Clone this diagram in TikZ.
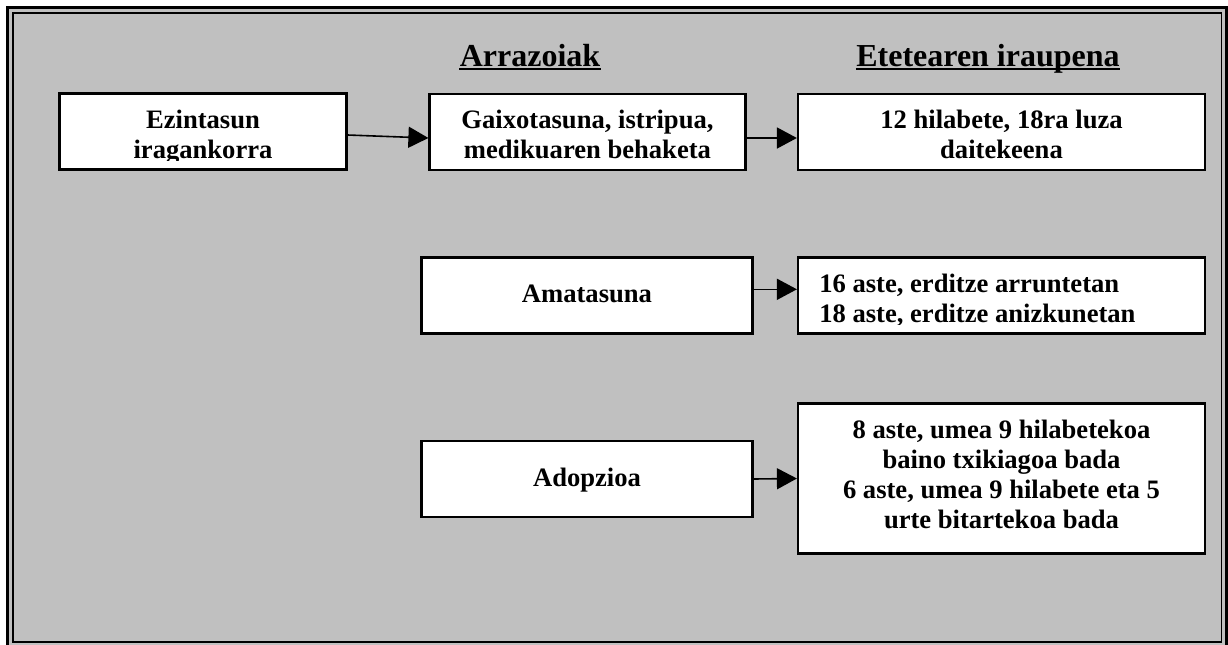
\documentclass[tikz,border=0pt]{standalone}
\usepackage{fontspec}
\setmainfont{Liberation Serif}
\usepackage{tikz}
\usetikzlibrary{arrows.meta,positioning}
\definecolor{panel}{RGB}{192,192,192}
\newcommand{\firstline}{\rule{0pt}{10pt}}

\begin{document}
\begin{tikzpicture}[
  x=0.5pt,y=-0.5pt,
  box/.style={rectangle,draw,fill=white,line width=1.1pt,minimum height=38pt,inner sep=0pt},
  txt/.style={inner sep=0pt,align=center,font=\fontsize{13.3pt}{15pt}\selectfont\bfseries},
  head/.style={inner sep=0pt,font=\fontsize{16pt}{19pt}\selectfont\bfseries},
  uline/.style={line width=1.1pt},
  arr/.style={-{Triangle[length=10pt,width=10.5pt]},line width=0.8pt}
]
\path[use as bounding box] (0,0) rectangle (1228,644);
\clip (0,0) rectangle (1228,644);
\filldraw[fill=panel,line width=1.5pt] (7.3,7) rectangle (1226,648);
\draw[line width=0.85pt] (12.7,12.7) rectangle (1221.5,642);

\node[head,anchor=base] (arrazoiak) at (530,66) {Arrazoiak};
\node[head,anchor=base] (iraupena) at (988,66) {Etetearen iraupena};
\draw[uline] ([yshift=-1.5pt]arrazoiak.base west) -- ([yshift=-1.5pt]arrazoiak.base east);
\draw[uline] ([yshift=-1.5pt]iraupena.base west) -- ([yshift=-1.5pt]iraupena.base east);

\node[box,minimum width=143.5pt] (ezin) at (203,131.5) {};
\node[box,minimum width=158pt] (gaix) at (587.5,132) {};
\node[box,minimum width=203.5pt] (hila) at (1001.5,132) {};
\node[box,minimum width=165.5pt] (amat) at (587,295.5) {};
\node[box,minimum width=203.5pt] (aste16) at (1001.5,295.5) {};
\node[box,minimum width=165.5pt] (adop) at (587,479) {};
\node[box,minimum width=203.5pt,minimum height=75pt] (aste8) at (1001.5,478.5) {};

\begin{scope}
\clip (ezin.north west) rectangle ([yshift=5.3pt]ezin.south east);
\node[txt,below=7.8pt of ezin.north] (ezintxt) {\firstline Ezintasun\\iragankorra};
\end{scope}
\begin{scope}
\clip (gaix.north west) rectangle ([yshift=5.3pt]gaix.south east);
\node[txt,below=7.7pt of gaix.north] (gaixtxt) {\firstline Gaixotasuna, istripua,\\medikuaren behaketa};
\end{scope}
\begin{scope}
\clip (hila.north west) rectangle ([yshift=5.3pt]hila.south east);
\node[txt,below=7.8pt of hila.north] (hilatxt) {\firstline 12 hilabete, 18ra luza\\daitekeena};
\end{scope}
\begin{scope}
\clip (aste16.north west) rectangle ([yshift=5.3pt]aste16.south east);
\node[txt,align=left,below right=7.9pt and 11pt of aste16.north west] (aste16txt) {\firstline 16 aste, erditze arruntetan\\18 aste, erditze anizkunetan};
\end{scope}

\node[txt,below=12.9pt of amat.north] (amattxt) {\firstline Amatasuna};
\node[txt,below=12.9pt of adop.north] (adoptxt) {\firstline Adopzioa};
\node[txt,below=7.9pt of aste8.north] (aste8txt) {\firstline 8 aste, umea 9 hilabetekoa\\baino txikiagoa bada\\6 aste, umea 9 hilabete eta 5\\urte bitartekoa bada};

\draw[arr] ([yshift=-1.75pt]ezin.east) -- ([yshift=-3pt]gaix.west);
\draw[arr] ([yshift=-3pt]gaix.east) -- ([yshift=-3pt]hila.west);
\draw[arr] ([yshift=3.1pt]amat.east) -- ([yshift=3.1pt]aste16.west);
\draw[arr] (adop.east) -- (aste8.west);
\end{tikzpicture}
\end{document}
